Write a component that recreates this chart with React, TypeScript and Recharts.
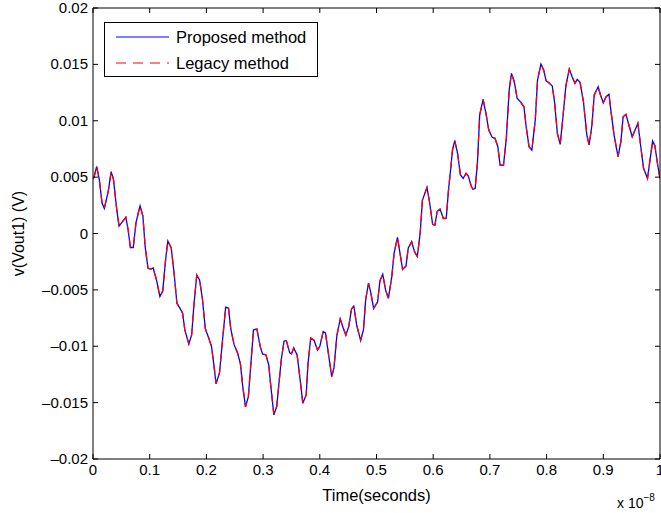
import { Label, Legend, Line, LineChart, XAxis, YAxis } from 'recharts'

// time axis in units of 1e-8 s (the plot shows "x 10^-8")
const timeUnits = [
  0, 0.002, 0.0065, 0.011, 0.016, 0.02, 0.027, 0.032, 0.036, 0.042,
  0.046, 0.052, 0.058, 0.062, 0.066, 0.071, 0.076, 0.083, 0.088, 0.092,
  0.097, 0.102, 0.106, 0.112, 0.118, 0.123, 0.128, 0.132, 0.138, 0.143,
  0.148, 0.153, 0.158, 0.162, 0.169, 0.174, 0.178, 0.183, 0.188, 0.193,
  0.198, 0.204, 0.209, 0.213, 0.217, 0.223, 0.229, 0.234, 0.239, 0.243,
  0.249, 0.255, 0.26, 0.264, 0.269, 0.274, 0.283, 0.289, 0.295, 0.299,
  0.305, 0.31, 0.313, 0.319, 0.324, 0.332, 0.337, 0.341, 0.347, 0.35,
  0.354, 0.36, 0.366, 0.37, 0.376, 0.379, 0.384, 0.39, 0.396, 0.4,
  0.406, 0.41, 0.415, 0.421, 0.425, 0.43, 0.436, 0.441, 0.446, 0.451,
  0.456, 0.46, 0.465, 0.472, 0.477, 0.481, 0.486, 0.49, 0.495, 0.502,
  0.506, 0.511, 0.516, 0.521, 0.527, 0.531, 0.537, 0.542, 0.546, 0.552,
  0.556, 0.562, 0.567, 0.572, 0.577, 0.581, 0.589, 0.593, 0.599, 0.603,
  0.607, 0.612, 0.618, 0.623, 0.627, 0.631, 0.634, 0.638, 0.643, 0.648,
  0.653, 0.658, 0.662, 0.667, 0.67, 0.674, 0.678, 0.682, 0.688, 0.693,
  0.698, 0.704, 0.709, 0.714, 0.718, 0.724, 0.729, 0.734, 0.738, 0.743,
  0.748, 0.754, 0.76, 0.764, 0.769, 0.774, 0.78, 0.784, 0.79, 0.795,
  0.799, 0.804, 0.81, 0.814, 0.819, 0.824, 0.828, 0.834, 0.84, 0.845,
  0.85, 0.854, 0.859, 0.865, 0.871, 0.875, 0.88, 0.884, 0.891, 0.895,
  0.9, 0.905, 0.91, 0.914, 0.919, 0.926, 0.931, 0.935, 0.94, 0.946,
  0.951, 0.956, 0.961, 0.965, 0.971, 0.978, 0.982, 0.987, 0.991, 0.995,
  1,
]

const proposedV = [
  0.00483, 0.00504, 0.00594, 0.00483, 0.00268, 0.00223, 0.00377, 0.00548, 0.00483, 0.00208,
  0.00066, 0.00105, 0.00144, 0.00031, -0.00124, -0.00124, 0.00102, 0.00246, 0.00155, -0.00117,
  -0.00309, -0.00315, -0.00306, -0.00412, -0.0056, -0.0051, -0.00235, -0.00066, -0.00129, -0.0035,
  -0.00619, -0.0066, -0.00707, -0.00855, -0.0098, -0.009, -0.00634, -0.00368, -0.00412, -0.00581,
  -0.00842, -0.00926, -0.01002, -0.01157, -0.01334, -0.01239, -0.00918, -0.00654, -0.00663, -0.00847,
  -0.00988, -0.01059, -0.01157, -0.01352, -0.01538, -0.01447, -0.00855, -0.00847, -0.01003, -0.01068,
  -0.01077, -0.01166, -0.01325, -0.01609, -0.01535, -0.01121, -0.00953, -0.0095, -0.01059, -0.01068,
  -0.01015, -0.01077, -0.01325, -0.01505, -0.01432, -0.01166, -0.00926, -0.00949, -0.01033, -0.01002,
  -0.0087, -0.00882, -0.01059, -0.0127, -0.01192, -0.00909, -0.00758, -0.00833, -0.009, -0.00826,
  -0.00669, -0.00643, -0.00811, -0.00949, -0.00855, -0.00581, -0.00441, -0.00527, -0.00665, -0.00605,
  -0.00421, -0.00361, -0.00501, -0.00574, -0.00383, -0.00176, -0.00034, -0.00191, -0.00319, -0.00288,
  -0.00129, -0.00073, -0.00161, -0.00204, 0.00002, 0.00297, 0.00408, 0.00297, 0.00082, 0.00075,
  0.00195, 0.00217, 0.00133, 0.00135, 0.00386, 0.00581, 0.0074, 0.00824, 0.00711, 0.00519,
  0.00489, 0.00534, 0.0051, 0.00421, 0.00392, 0.00399, 0.00625, 0.0105, 0.0119, 0.01066,
  0.00918, 0.00853, 0.00844, 0.0077, 0.00607, 0.00607, 0.00844, 0.01272, 0.0142, 0.01346,
  0.01199, 0.01168, 0.01124, 0.00947, 0.0077, 0.0074, 0.01006, 0.01361, 0.01503, 0.01449,
  0.01355, 0.01337, 0.01308, 0.01168, 0.00888, 0.00791, 0.00991, 0.0131, 0.01458, 0.0139,
  0.01332, 0.01367, 0.0134, 0.01168, 0.00873, 0.00785, 0.00962, 0.01228, 0.01301, 0.01228,
  0.0116, 0.01213, 0.01234, 0.01066, 0.00873, 0.00681, 0.00814, 0.01035, 0.01057, 0.00947,
  0.00858, 0.00918, 0.00977, 0.00814, 0.00578, 0.00489, 0.00637, 0.0082, 0.00778, 0.00637,
  0.00489,
]

// the legacy trace lies exactly on top of the proposed one in the plot
const legacyV = [...proposedV]

const xTicks = [0, 0.1, 0.2, 0.3, 0.4, 0.5, 0.6, 0.7, 0.8, 0.9, 1]
const yTicks = [-0.02, -0.015, -0.01, -0.005, 0, 0.005, 0.01, 0.015, 0.02]

const data = timeUnits.map((t, i) => ({ t, proposed: proposedV[i], legacy: legacyV[i] }))

const FONT = '"Liberation Sans", Arial, Helvetica, sans-serif'
const TICK_LEN = 5

const fmt = (v: number) => String(v).replace('-', '\u2013')

function BottomTick({ x, y, payload }: any) {
  const last = payload.value === 1
  return (
    <g>
      <line x1={x} y1={y} x2={x} y2={y - TICK_LEN} stroke="#000" />
      <text x={x} y={y + 16} textAnchor="middle" fontSize={15} fontFamily={FONT} fill="#000">
        {fmt(payload.value)}
      </text>
      {last && (
        <text x={x - 43} y={y + 49} fontSize={14} fontFamily={FONT} fill="#000">
          x 10<tspan dy={-7} fontSize={10}>{'\u22128'}</tspan>
        </text>
      )}
    </g>
  )
}

function TopTick({ x, y }: any) {
  return <line x1={x} y1={y} x2={x} y2={y + TICK_LEN} stroke="#000" />
}

function LeftTick({ x, y, payload }: any) {
  return (
    <g>
      <line x1={x} y1={y} x2={x + TICK_LEN} y2={y} stroke="#000" />
      <text x={x - 5} y={y + 5} textAnchor="end" fontSize={15} fontFamily={FONT} fill="#000">
        {fmt(payload.value)}
      </text>
    </g>
  )
}

function RightTick({ x, y }: any) {
  return <line x1={x} y1={y} x2={x - TICK_LEN} y2={y} stroke="#000" />
}

function LegendBox() {
  return (
    <div
      style={{
        width: 212,
        height: 53,
        border: '1px solid #000',
        background: '#fff',
      }}
    >
      <svg width={212} height={53} style={{ display: 'block' }}>
        <line x1={11} y1={14} x2={64} y2={14} stroke="#0000ff" strokeWidth={1.2} />
        <text x={71} y={20} fontSize={16.5} fontFamily={FONT} fill="#000">Proposed method</text>
        <line x1={11} y1={40} x2={64} y2={40} stroke="#ff0000" strokeWidth={1.2} strokeDasharray="10 7" />
        <text x={71} y={46} fontSize={16.5} fontFamily={FONT} fill="#000">Legacy method</text>
      </svg>
    </div>
  )
}

export default function App() {
  return (
    <div style={{ width: 661, height: 513, background: '#fff' }}>
      <style>{'body{margin:0}'}</style>
      <LineChart width={661} height={513} data={data} margin={{ top: 7, right: 0, bottom: 0, left: 0 }}>
        <XAxis
          xAxisId="b"
          dataKey="t"
          type="number"
          domain={[0, 1]}
          ticks={xTicks}
          interval={0}
          height={54}
          tickSize={0}
          tickMargin={0}
          tickLine={false}
          axisLine={{ stroke: '#000' }}
          tick={BottomTick}
          allowDataOverflow
        >
          <Label
            value="Time(seconds)"
            position="insideBottom"
            offset={12}
            style={{ fontSize: 16.5, fontFamily: FONT, fill: '#000' }}
          />
        </XAxis>
        <XAxis
          xAxisId="t"
          orientation="top"
          dataKey="t"
          type="number"
          domain={[0, 1]}
          ticks={xTicks}
          interval={0}
          height={1}
          tickSize={0}
          tickMargin={0}
          tickLine={false}
          axisLine={{ stroke: '#000' }}
          tick={TopTick}
          allowDataOverflow
        />
        <YAxis
          yAxisId="l"
          type="number"
          domain={[-0.02, 0.02]}
          ticks={yTicks}
          interval={0}
          width={93}
          tickSize={0}
          tickMargin={0}
          tickLine={false}
          axisLine={{ stroke: '#000' }}
          tick={LeftTick}
          allowDataOverflow
        >
          <Label
            value="v(Vout1) (V)"
            angle={-90}
            position="insideLeft"
            offset={18}
            style={{ fontSize: 16, fontFamily: FONT, fill: '#000', textAnchor: 'middle' }}
          />
        </YAxis>
        <YAxis
          yAxisId="r"
          orientation="right"
          type="number"
          domain={[-0.02, 0.02]}
          ticks={yTicks}
          interval={0}
          width={1}
          tickSize={0}
          tickMargin={0}
          tickLine={false}
          axisLine={{ stroke: '#000' }}
          tick={RightTick}
          allowDataOverflow
        />
        <Legend
          layout="horizontal"
          align="center"
          verticalAlign="middle"
          content={() => <LegendBox />}
          wrapperStyle={{ position: 'absolute', left: 104, top: 22, width: 'auto', height: 'auto' }}
        />
        <Line
          xAxisId="b"
          yAxisId="l"
          type="linear"
          dataKey="proposed"
          name="Proposed method"
          stroke="#0000ff"
          strokeWidth={1.3}
          dot={false}
          activeDot={false}
          isAnimationActive={false}
        />
        <Line
          xAxisId="b"
          yAxisId="l"
          type="linear"
          dataKey="legacy"
          name="Legacy method"
          stroke="#ff0000"
          strokeWidth={1.3}
          strokeDasharray="8 6"
          dot={false}
          activeDot={false}
          isAnimationActive={false}
        />
      </LineChart>
    </div>
  )
}
